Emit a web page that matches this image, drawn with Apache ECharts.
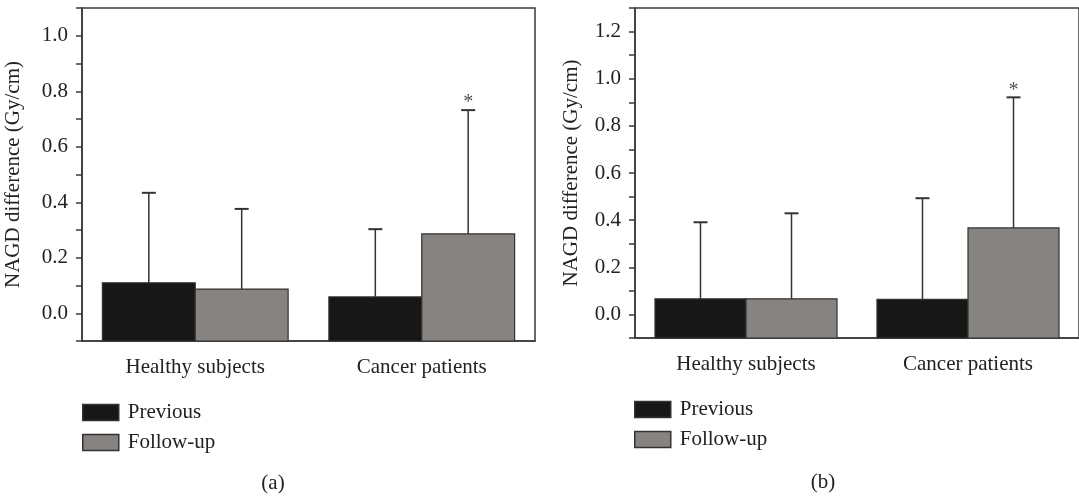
<!DOCTYPE html>
<html>
<head>
<meta charset="utf-8">
<script src="https://cdn.jsdelivr.net/npm/echarts@6/dist/echarts.min.js"></script>
<style>
	html, body { margin: 0; padding: 0; background: #fff; }
	#main { width: 1079px; height: 496px; }
</style>
</head>
<body>
<div id="main"></div>
<script>
var categories = ['Healthy subjects', 'Cancer patients'];

// panel (a)
var previousA = [0.110, 0.059];
var previousSdA = [0.324, 0.244];
var followA = [0.087, 0.286];
var followSdA = [0.289, 0.446];
var sigA = [0, 1];

// panel (b)
var previousB = [0.066, 0.064];
var previousSdB = [0.325, 0.429];
var followB = [0.066, 0.367];
var followSdB = [0.363, 0.554];
var sigB = [0, 1];

var FONT = 'Liberation Serif';
var FS = 21;
var TEXT = '#222';
var LINE = '#3a3a3a';
var PREV_COLOR = '#171717';
var FOLLOW_COLOR = '#878381';

var chart = echarts.init(document.getElementById('main'));

function barData(means, sds, sig) {
	var out = [];
	for (var i = 0; i < means.length; i++) {
		out.push([i, means[i], means[i] + sds[i], sig ? sig[i] : 0]);
	}
	return out;
}

// bars are drawn from the bottom of the axis (-0.1), as in the original figure
function barRender(side, color, yMin) {
	return function(params, api) {
		var band = api.size([1, 0])[0];
		var w = band * 0.41;
		var mean = api.coord([api.value(0), api.value(1)]);
		var bottom = api.coord([api.value(0), yMin]);
		var top = api.coord([api.value(0), api.value(2)]);
		var x = mean[0] + side * w / 2;
		var kids = [{
			type: 'rect',
			shape: { x: x - w / 2, y: mean[1], width: w, height: bottom[1] - mean[1] },
			style: { fill: color, stroke: '#333', lineWidth: 1.2 }
		}, {
			type: 'line',
			shape: { x1: x, y1: mean[1], x2: x, y2: top[1] },
			style: { stroke: '#333', lineWidth: 1.5 }
		}, {
			type: 'line',
			shape: { x1: x - 7, y1: top[1], x2: x + 7, y2: top[1] },
			style: { stroke: '#333', lineWidth: 2 }
		}];
		if (api.value(3)) {
			kids.push({
				type: 'text',
				x: x,
				y: top[1] - 7,
				style: {
					text: '*',
					font: '20px "' + FONT + '"',
					fill: '#555',
					align: 'center',
					verticalAlign: 'middle'
				}
			});
		}
		return { type: 'group', children: kids };
	};
}

function xAxisFor(idx) {
	return {
		type: 'category',
		gridIndex: idx,
		data: categories,
		axisLine: { onZero: false, lineStyle: { color: LINE, width: 1.5 } },
		axisTick: { alignWithLabel: true, length: 8, lineStyle: { color: LINE, width: 1.5 } },
		axisLabel: { color: TEXT, fontFamily: FONT, fontSize: FS, margin: 16 },
		splitLine: { show: false }
	};
}

function yAxisFor(idx, max, gap) {
	return {
		type: 'value',
		gridIndex: idx,
		min: -0.1,
		max: max,
		interval: 0.1,
		name: 'NAGD difference (Gy/cm)',
		nameLocation: 'middle',
		nameGap: gap,
		nameTextStyle: { color: TEXT, fontFamily: FONT, fontSize: FS },
		axisLine: { show: true, lineStyle: { color: LINE, width: 1.5 } },
		axisTick: { show: true, length: 6, lineStyle: { color: LINE, width: 1.5 } },
		axisLabel: {
			color: TEXT,
			fontFamily: FONT,
			fontSize: FS,
			margin: 14,
			formatter: function(v) {
				return Math.round(v * 10) % 2 === 0 ? v.toFixed(1) : '';
			}
		},
		splitLine: { show: false }
	};
}

function barSeries(name, idx, data, side, color) {
	return {
		type: 'custom',
		name: name,
		xAxisIndex: idx,
		yAxisIndex: idx,
		data: data,
		itemStyle: { color: color, borderColor: '#333' },
		renderItem: barRender(side, color, -0.1),
		silent: true
	};
}

function legendFor(left, top) {
	return {
		orient: 'vertical',
		left: left,
		top: top,
		padding: 0,
		itemWidth: 36,
		itemHeight: 16,
		itemGap: 9,
		selectedMode: false,
		textStyle: { color: TEXT, fontFamily: FONT, fontSize: FS, padding: [0, 0, 0, 4] },
		data: [
			{ name: 'Previous', icon: 'rect', itemStyle: { color: PREV_COLOR, borderColor: '#333', borderWidth: 1.5 } },
			{ name: 'Follow-up', icon: 'rect', itemStyle: { color: FOLLOW_COLOR, borderColor: '#333', borderWidth: 1.5 } }
		]
	};
}

var option = {
	animation: false,
	backgroundColor: '#fff',
	grid: [
		{ left: 82, top: 8, width: 453, height: 333, show: true, borderColor: LINE, borderWidth: 1.5, backgroundColor: 'transparent' },
		{ left: 635, top: 8, width: 448, height: 330, show: true, borderColor: LINE, borderWidth: 1.5, backgroundColor: 'transparent' }
	],
	xAxis: [xAxisFor(0), xAxisFor(1)],
	yAxis: [yAxisFor(0, 1.1, 58), yAxisFor(1, 1.3, 53)],
	legend: [legendFor(82, 402), legendFor(634, 399)],
	series: [
		barSeries('Previous', 0, barData(previousA, previousSdA), -1, PREV_COLOR),
		barSeries('Follow-up', 0, barData(followA, followSdA, sigA), 1, FOLLOW_COLOR),
		barSeries('Previous', 1, barData(previousB, previousSdB), -1, PREV_COLOR),
		barSeries('Follow-up', 1, barData(followB, followSdB, sigB), 1, FOLLOW_COLOR)
	],
	graphic: [
		{ type: 'text', x: 273, y: 483, style: { text: '(a)', font: FS + 'px "' + FONT + '"', fill: TEXT, align: 'center', verticalAlign: 'middle' } },
		{ type: 'text', x: 823, y: 482, style: { text: '(b)', font: FS + 'px "' + FONT + '"', fill: TEXT, align: 'center', verticalAlign: 'middle' } }
	]
};

chart.setOption(option);
</script>
</body>
</html>
